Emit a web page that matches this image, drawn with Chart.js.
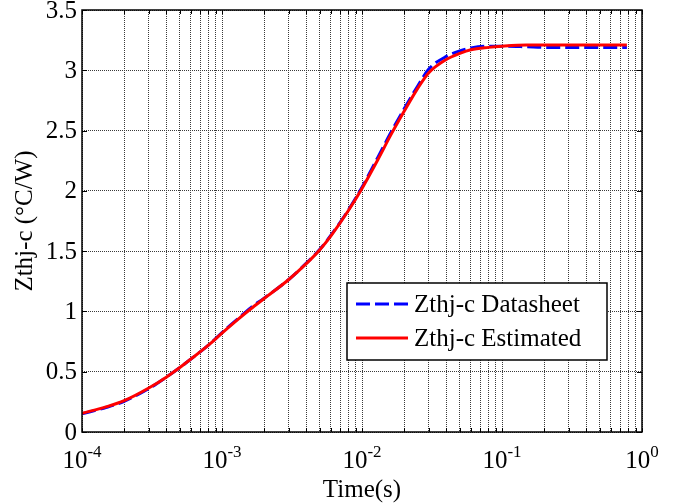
<!DOCTYPE html>
<html>
<head>
<meta charset="utf-8">
<script src="https://cdn.jsdelivr.net/npm/chart.js@4.4.0/dist/chart.umd.min.js"></script>
<style>
html, body { margin: 0; padding: 0; background: #fff; }
</style>
</head>
<body>
<canvas id="myChart" width="676" height="504"></canvas>
<script>
// values
var timeArr = [1e-4, 1.5e-4, 2e-4, 3e-4, 4e-4, 5e-4, 6e-4, 8e-4, 1e-3, 1.3e-3, 1.6e-3, 2e-3, 3e-3, 4e-3, 5e-3, 6e-3, 8e-3,
               1e-2, 1.3e-2, 1.6e-2, 2e-2, 2.5e-2, 3e-2, 4e-2, 5e-2, 6e-2, 8e-2, 0.1, 0.15, 0.2, 0.4, 0.78];
var datasheetArr = [0.15, 0.205, 0.255, 0.36, 0.455, 0.535, 0.605, 0.72, 0.825, 0.94, 1.03, 1.11, 1.265, 1.4, 1.515, 1.632, 1.842,
                    2.03, 2.28, 2.48, 2.68, 2.87, 3.01, 3.115, 3.16, 3.185, 3.2, 3.2, 3.195, 3.19, 3.19, 3.19];
var estimatedArr = [0.155, 0.21, 0.26, 0.365, 0.455, 0.535, 0.605, 0.72, 0.82, 0.934, 1.02, 1.107, 1.265, 1.396, 1.512, 1.627, 1.837,
                    2.02, 2.26, 2.46, 2.66, 2.85, 2.98, 3.09, 3.14, 3.17, 3.19, 3.2, 3.21, 3.21, 3.21, 3.21];

var yTickVals = [0, 0.5, 1, 1.5, 2, 2.5, 3, 3.5];
var yTickLabels = ['0', '0.5', '1', '1.5', '2', '2.5', '3', '3.5'];
var xDecades = [1e-4, 1e-3, 1e-2, 1e-1, 1];
var xExponents = ['-4', '-3', '-2', '-1', '0'];
var seriesNames = ['Zthj-c Datasheet', 'Zthj-c Estimated'];

var serif = '"Liberation Serif", "Times New Roman", serif';

function toPoints(ys) {
    return timeArr.map(function (t, i) { return { x: t, y: ys[i] }; });
}

// frame, tick marks, labels, titles and legend drawn MATLAB-style
var matlabAxes = {
    id: 'matlabAxes',
    afterDraw: function (chart) {
        var ctx = chart.ctx, a = chart.chartArea;
        var xs = chart.scales.x, ys = chart.scales.y;
        ctx.save();

        ctx.strokeStyle = '#000';
        ctx.lineWidth = 1.5;
        ctx.strokeRect(a.left, a.top, a.right - a.left, a.bottom - a.top);

        ctx.lineWidth = 1;
        ctx.beginPath();
        xs.ticks.forEach(function (t) {
            var px = Math.round(xs.getPixelForValue(t.value)) + 0.5;
            ctx.moveTo(px, a.bottom); ctx.lineTo(px, a.bottom - 4);
            ctx.moveTo(px, a.top); ctx.lineTo(px, a.top + 4);
        });
        yTickVals.forEach(function (v) {
            var py = Math.round(ys.getPixelForValue(v)) + 0.5;
            ctx.moveTo(a.left, py); ctx.lineTo(a.left + 5, py);
            ctx.moveTo(a.right, py); ctx.lineTo(a.right - 5, py);
        });
        ctx.stroke();

        ctx.fillStyle = '#000';
        // y tick labels
        ctx.font = '25px ' + serif;
        ctx.textAlign = 'right';
        ctx.textBaseline = 'middle';
        yTickVals.forEach(function (v, i) {
            ctx.fillText(yTickLabels[i], a.left - 5, ys.getPixelForValue(v) + 1);
        });

        // x tick labels with superscript exponents
        ctx.textAlign = 'left';
        ctx.textBaseline = 'alphabetic';
        xDecades.forEach(function (d, i) {
            var px = xs.getPixelForValue(d);
            ctx.font = '25px ' + serif;
            var w1 = ctx.measureText('10').width;
            ctx.font = '17px ' + serif;
            var w2 = ctx.measureText(xExponents[i]).width;
            var x0 = px - (w1 + w2) / 2;
            ctx.font = '25px ' + serif;
            ctx.fillText('10', x0, 468);
            ctx.font = '17px ' + serif;
            ctx.fillText(xExponents[i], x0 + w1, 457);
        });

        // axis titles
        ctx.font = '25px ' + serif;
        ctx.textAlign = 'center';
        ctx.fillText('Time(s)', (a.left + a.right) / 2, 497);
        ctx.save();
        ctx.translate(32, (a.top + a.bottom) / 2);
        ctx.rotate(-Math.PI / 2);
        ctx.fillText('Zthj-c (\u00B0C/W)', 0, 0);
        ctx.restore();

        // legend box
        var lx = 347, ly = 283, lw = 260, lh = 77;
        ctx.fillStyle = '#fff';
        ctx.fillRect(lx, ly, lw, lh);
        ctx.strokeStyle = '#000';
        ctx.lineWidth = 1.5;
        ctx.strokeRect(lx, ly, lw, lh);
        var rows = [304, 338];
        chart.data.datasets.forEach(function (ds, i) {
            ctx.strokeStyle = ds.borderColor;
            ctx.lineWidth = 3;
            ctx.setLineDash(ds.borderDash || []);
            ctx.beginPath();
            ctx.moveTo(356, rows[i]);
            ctx.lineTo(408, rows[i]);
            ctx.stroke();
            ctx.setLineDash([]);
            ctx.fillStyle = '#000';
            ctx.font = '25px ' + serif;
            ctx.textAlign = 'left';
            ctx.textBaseline = 'middle';
            ctx.fillText(seriesNames[i], 414, rows[i] + 1);
        });

        ctx.restore();
    }
};

var gridDash = [1, 1];

var ctx = document.getElementById('myChart').getContext('2d');
var chart = new Chart(ctx, {
    type: 'line',
    data: {
        datasets: [{
            label: seriesNames[0],
            data: toPoints(datasheetArr),
            borderColor: '#0000ff',
            borderWidth: 3,
            borderDash: [14, 5],
            fill: false,
            pointRadius: 0,
            cubicInterpolationMode: 'monotone',
            order: 1
        },
        {
            label: seriesNames[1],
            data: toPoints(estimatedArr),
            borderColor: '#ff0000',
            borderWidth: 3,
            fill: false,
            pointRadius: 0,
            cubicInterpolationMode: 'monotone',
            order: 0
        }]
    },
    options: {
        responsive: false,
        animation: false,
        layout: { padding: { left: 82, right: 34, top: 10, bottom: 72 } },
        plugins: { legend: { display: false }, tooltip: { enabled: false } },
        scales: {
            x: {
                type: 'logarithmic',
                min: 1e-4,
                max: 1,
                afterBuildTicks: function (scale) {
                    var t = [];
                    for (var e = -4; e < 0; e++) {
                        for (var m = 1; m < 10; m++) t.push({ value: m * Math.pow(10, e) });
                    }
                    t.push({ value: 1 });
                    scale.ticks = t;
                },
                ticks: { display: false },
                grid: { color: '#3a3a3a', drawTicks: false, lineWidth: 1 },
                border: { display: false, dash: gridDash }
            },
            y: {
                min: 0,
                max: 3.5,
                ticks: { display: false, stepSize: 0.5 },
                grid: { color: '#3a3a3a', drawTicks: false, lineWidth: 1 },
                border: { display: false, dash: gridDash }
            }
        }
    },
    plugins: [matlabAxes]
});
</script>
</body>
</html>
